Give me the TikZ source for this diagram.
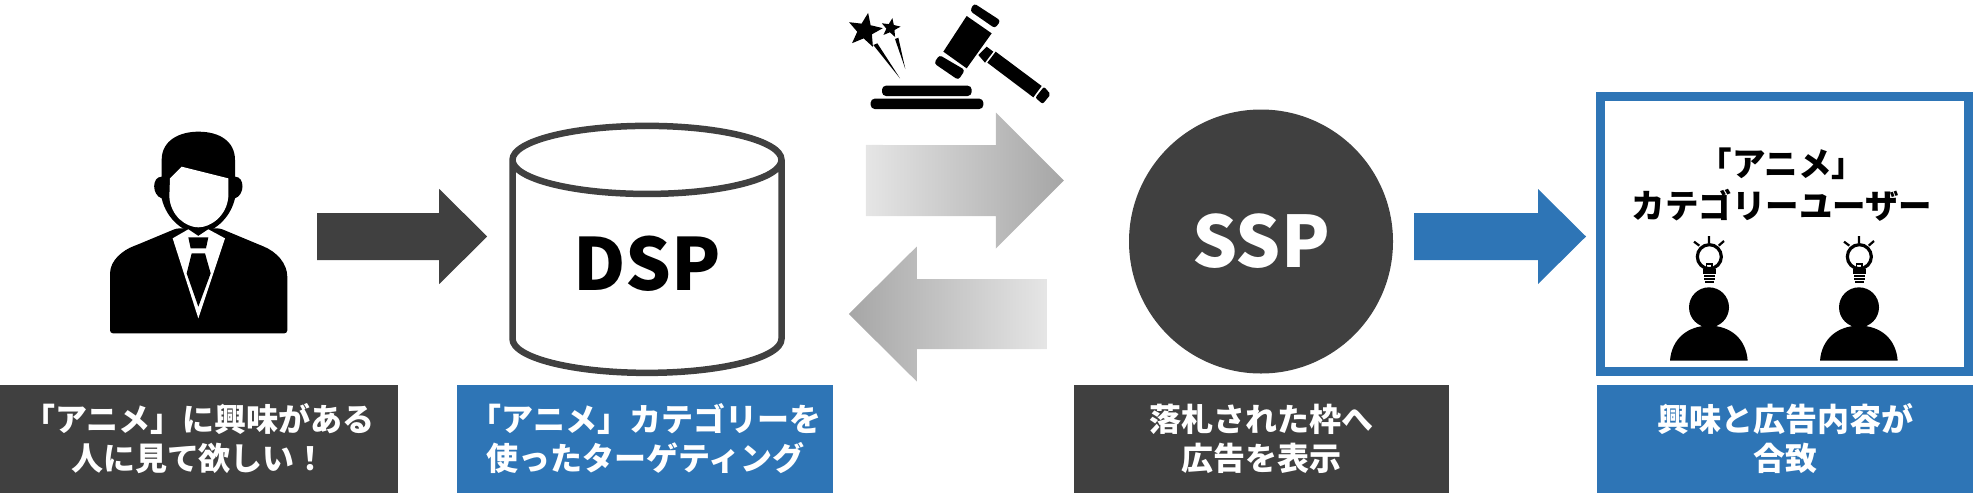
\documentclass[tikz,border=0pt]{standalone}
\usepackage{fontspec}
\setmainfont{Noto Sans CJK JP}
\usetikzlibrary{positioning}
\usetikzlibrary{shapes.geometric}
\usetikzlibrary{calc}
\definecolor{darkbox}{HTML}{404040}
\definecolor{bluebox}{HTML}{2E75B6}
\tikzset{
	label/.style={minimum height=108pt, align=center, text=white, font=\bfseries\fontsize{32}{39}\selectfont},
	blockarrow/.style n args={3}{to path={($(\tikztostart)+(0,-#2)$) -- ($(\tikztotarget)+(-#1,-#2)$) -- ($(\tikztotarget)+(-#1,-#3)$) -- (\tikztotarget) -- ($(\tikztotarget)+(-#1,#3)$) -- ($(\tikztotarget)+(-#1,#2)$) -- ($(\tikztostart)+(0,#2)$) -- cycle}},
}
\begin{document}
\begin{tikzpicture}[x=1pt, y=-1pt, every text node part/.style={align=center}]
	\useasboundingbox (0,0) rectangle (1973,499);

	\node[minimum width=177pt, minimum height=201pt, inner sep=0pt](person) at (198.5,232.5) {};
	\node[draw=darkbox, line width=6.5pt, cylinder, shape border rotate=90, aspect=0.46, minimum width=269pt, minimum height=247pt, inner sep=0pt, font=\bfseries\fontsize{72}{76}\selectfont](dsp) at (647,268) {\raisebox{10pt}{DSP}};
	\node[circle, fill=darkbox, text=white, minimum size=264pt, inner sep=0pt, font=\bfseries\fontsize{71}{76}\selectfont](ssp) at (1261,241.5) {SSP};
	\node[draw=bluebox, line width=9pt, rectangle, minimum width=368pt, minimum height=275pt, inner sep=0pt](frame) at (1784.5,234) {};
	\node[inner sep=0pt, font=\bfseries\fontsize{33.5}{42}\selectfont](title) at (1782,185) {「アニメ」\\カテゴリーユーザー};

	\node[label, fill=darkbox, minimum width=398pt](label1) at (199,439) {「アニメ」に興味がある\\人に見て欲しい！};
	\node[label, fill=bluebox, minimum width=376pt, right=59pt of label1](label2) {「アニメ」カテゴリーを\\使ったターゲティング};
	\node[label, fill=darkbox, minimum width=375pt, right=240pt of label2](label3) {落札された枠へ\\広告を表示};
	\node[label, fill=bluebox, minimum width=376pt, right=148pt of label3](label4) {興味と広告内容が\\合致};

	\path[blockarrow={48}{23.5}{47.5}, fill=darkbox] ($(person.east)+(30,4)$) to ($(dsp.west)+(-22,-31.5)$);
	\path[blockarrow={68}{35.5}{68}, left color=black!10, right color=black!35] ($(dsp.east)+(81,-87.5)$) to ($(ssp.west)+(-65,-61)$);
	\path[blockarrow={-68}{35}{67.5}, left color=black!35, right color=black!10] ($(ssp.west)+(-82,72.5)$) to ($(dsp.east)+(64,46)$);
	\path[blockarrow={48}{23.5}{47.5}, fill=bluebox] ($(ssp.east)+(21,-5)$) to ($(frame.west)+(-10,2.5)$);

	\begin{scope}[shift={(80,110)}, x=1/3*1pt, y=-1/3*1pt]
		\fill[rounded corners=3pt] (90,500) .. controls (90,450) and (130,420) .. (170,405) -- (290,355) -- (420,355) -- (540,405) .. controls (590,425) and (622,460) .. (622,510) -- (622,670) -- (90,670) -- cycle;
		\fill (245,150) .. controls (245,90) and (300,65) .. (355,65) .. controls (420,65) and (465,95) .. (465,150) -- (465,200) .. controls (495,200) and (495,255) .. (465,265) .. controls (450,330) and (395,370) .. (355,370) .. controls (315,370) and (260,330) .. (245,265) .. controls (215,255) and (215,200) .. (245,200) -- cycle;
		\fill[white] (270,205) -- (305,170) -- (445,205) -- (445,260) .. controls (440,320) and (390,352) .. (355,352) .. controls (320,352) and (272,320) .. (268,260) -- cycle;
		\fill[white] (278,385) -- (325,358) -- (355,378) -- (385,358) -- (435,385) -- (355,625) -- cycle;
		\fill (325,382) -- (385,382) -- (378,415) -- (332,415) -- cycle;
		\fill (335,430) -- (375,430) -- (392,490) -- (355,590) -- (320,490) -- cycle;
	\end{scope}

	\begin{scope}[shift={(830,0)}, x=1/3*1pt, y=-1/3*1pt]
		\fill[rounded corners=4pt] (156,257) rectangle (425,288);
		\fill[rounded corners=4pt] (122,296) rectangle (460,327);
		\fill (410,48) -- (485,100) -- (410,205) -- (340,155) -- cycle;
		\fill[rounded corners=3pt] (432,10) -- (512,62) -- (495,85) -- (420,33) -- cycle;
		\fill[rounded corners=3pt] (328,165) -- (405,210) -- (385,240) -- (312,190) -- cycle;
		\fill (445,165) -- (470,140) -- (490,155) -- (465,188) -- cycle;
		\fill (497,155) -- (635,258) -- (610,292) -- (472,188) -- cycle;
		\fill[rounded corners=2pt] (642,260) -- (662,283) -- (638,312) -- (616,293) -- cycle;
		\fill (130,135) -- (142,130) -- (210,235) -- cycle;
		\fill (195,117) -- (205,113) -- (226,207) -- cycle;
		\node[star, star points=5, star point ratio=2.3, fill=black, minimum size=36pt, inner sep=0pt, rotate=-10](star1) at (105,92) {};
		\node[star, star points=5, star point ratio=2.3, fill=black, minimum size=20pt, inner sep=0pt, rotate=-10](star2) at (182,84) {};
	\end{scope}

	\foreach \px in {0,450} {
		\begin{scope}[shift={(1580,80)}, x=1/3*1pt, y=-1/3*1pt, xshift=\px/3*1pt]
			\fill (387,682) circle (20pt);
			\fill (270,842) .. controls (275,775) and (325,737) .. (387,737) .. controls (450,737) and (498,775) .. (503,842) -- cycle;
			\draw[line width=3.2pt] (388,530) circle (12pt);
			\fill (370,568) rectangle (408,582);
			\fill (372,586) rectangle (406,591);
			\fill (372,594) rectangle (406,599);
			\fill (376,602) rectangle (402,610);
			\draw[line width=1.4pt] (380,572) -- (380,552) -- (396,552) -- (396,572);
			\draw[line width=2.2pt] (387,468) -- (387,490) (342,485) -- (358,497) (432,483) -- (416,497);
		\end{scope}
	}
\end{tikzpicture}
\end{document}
